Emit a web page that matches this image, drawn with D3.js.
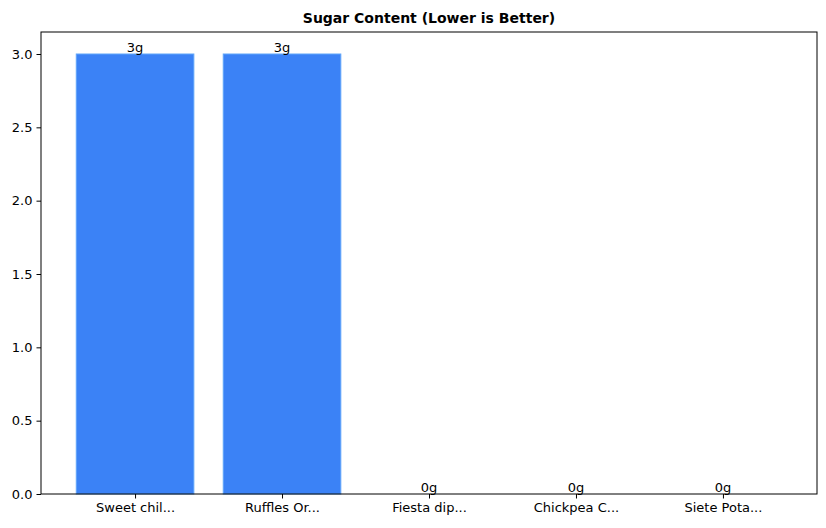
<!DOCTYPE html>
<html><head><meta charset="utf-8">
<script src="https://cdn.jsdelivr.net/npm/d3@7"></script>
<style>body{margin:0;background:#fff}text{font-family:"DejaVu Sans",sans-serif}</style>
</head><body><svg id="c" width="826" height="528"></svg>
<script>
const categories = ["Sweet chil...", "Ruffles Or...", "Fiesta dip...", "Chickpea C...", "Siete Pota..."];
const sugar = [3, 3, 0, 0, 0];
const yTicks = [0, 0.5, 1.0, 1.5, 2.0, 2.5, 3.0];

const svg = d3.select("#c");
const L = 41, R = 817, T = 32, B = 494;
const x = d3.scaleLinear().domain([-0.64, 4.64]).range([L, R]);
const y = d3.scaleLinear().domain([0, 3.15]).range([B, T]);

svg.append("text").attr("x", (L + R) / 2).attr("y", 23).attr("text-anchor", "middle")
  .attr("font-size", 14).attr("font-weight", "bold").text("Sugar Content (Lower is Better)");

svg.selectAll("rect.bar").data(sugar).join("rect").attr("class", "bar")
  .attr("x", (d, i) => x(i - 0.4)).attr("width", x(0.4) - x(-0.4))
  .attr("y", d => y(d)).attr("height", d => B - y(d))
  .attr("fill", "#3b82f6").attr("stroke", "#60a5fa").attr("stroke-width", 1);

svg.selectAll("text.lbl").data(sugar).join("text").attr("class", "lbl")
  .attr("x", (d, i) => x(i)).attr("y", d => y(d) - 2).attr("text-anchor", "middle")
  .attr("font-size", 13).text(d => d + "g");

const gx = svg.append("g").attr("transform", `translate(0,${B})`)
  .call(d3.axisBottom(x).tickValues(d3.range(categories.length)).tickFormat(i => categories[i]).tickSize(4.5).tickPadding(4));
const gy = svg.append("g").attr("transform", `translate(${L},0)`)
  .call(d3.axisLeft(y).tickValues(yTicks).tickFormat(d3.format(".1f")).tickSize(4.5).tickPadding(4));
[gx, gy].forEach(g => { g.select(".domain").remove(); g.selectAll("text").attr("font-size", 13).attr("fill", "#000"); g.selectAll("line").attr("stroke", "#000"); });

svg.append("rect").attr("x", L).attr("y", T).attr("width", R - L).attr("height", B - T)
  .attr("fill", "none").attr("stroke", "#000").attr("stroke-width", 1);
</script></body></html>
